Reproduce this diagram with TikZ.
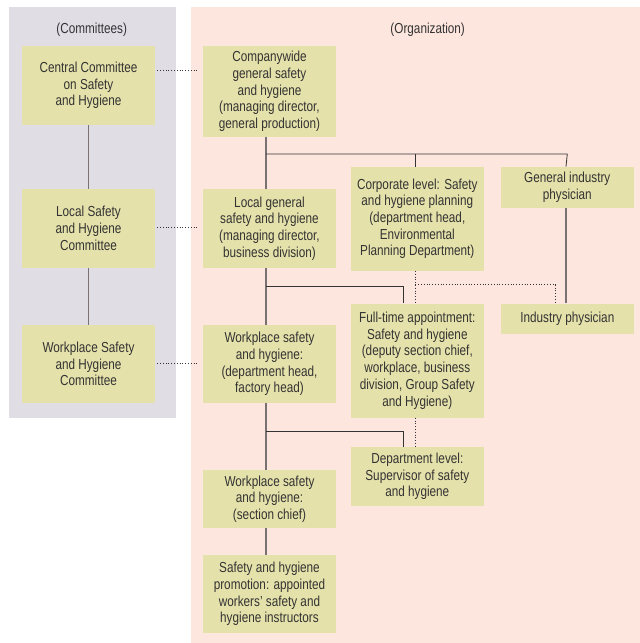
\documentclass[tikz,border=0pt]{standalone}
\usepackage{fontspec}
\setmainfont{Liberation Sans}[FakeStretch=0.81]
\usetikzlibrary{positioning, calc}

\definecolor{cmtbg}{RGB}{224,221,229}
\definecolor{orgbg}{RGB}{253,230,222}
\definecolor{boxfill}{RGB}{229,225,170}
\definecolor{txtgray}{RGB}{51,51,51}
\definecolor{trunkgray}{RGB}{122,114,114}

\tikzset{
  unit/.style={fill=boxfill, inner sep=0pt, minimum width=133pt, align=center,
    text=txtgray, font=\fontsize{14.5}{16.7}\selectfont},
  paneltitle/.style={text=txtgray, font=\fontsize{14.5}{16.7}\selectfont},
  trunkline/.style={draw=trunkgray, line width=1.3pt},
  branchline/.style={draw=txtgray, line width=0.8pt},
  linkdots/.style={draw=txtgray, line width=0.8pt, dash pattern=on 0.8pt off 2pt}
}

\begin{document}
\begin{tikzpicture}[x=1pt, y=-1pt]
\useasboundingbox (0,0) rectangle (640,643);

% --- panels ---
\fill[cmtbg] (9,7) rectangle (176,418);
\fill[orgbg] (191,7) rectangle (640,643);
\node[paneltitle] (cmttitle) at (91.7,30) {(Committees)};
\node[paneltitle] (orgtitle) at (427.7,30) {(Organization)};

% --- committees ---
\node[unit, minimum height=79pt] (central) at (88.5,85.5)
  {Central Committee\\on Safety\\and Hygiene};
\node[unit, minimum height=79pt] (localcmt) at (88.5,228.3)
  {Local Safety\\and Hygiene\\Committee};
\node[unit, minimum height=78pt] (workcmt) at (88.5,364)
  {Workplace Safety\\and Hygiene\\Committee};
\draw[trunkline] (central) -- (localcmt);
\draw[trunkline] (localcmt) -- (workcmt);

% --- organization: main column ---
\node[unit, minimum height=91pt] (company) at (269.5,91.5)
  {Companywide\\general safety\\and hygiene\\(managing director,\\general production)};
\node[unit, minimum height=79pt] (localorg) at (269.5,228.3)
  {Local general\\safety and hygiene\\(managing director,\\business division)};
\node[unit, minimum height=78pt] (workorg) at (269.5,364)
  {Workplace safety\\and hygiene:\\(department head,\\factory head)};
\node[unit, minimum height=58pt] (section) at (269.5,499)
  {Workplace safety\\and hygiene:\\(section chief)};
\node[unit, minimum height=78pt] (promo) at (269.5,594)
  {Safety and hygiene\\promotion: appointed\\workers' safety and\\hygiene instructors};

% --- organization: staff column ---
\node[unit, minimum height=104pt] (corp) at (417.3,218.7)
  {Corporate level: Safety\\and hygiene planning\\(department head,\\Environmental\\Planning Department)};
\node[unit, minimum height=114pt] (fulltime) at (417.3,360.5)
  {Full-time appointment:\\Safety and hygiene\\(deputy section chief,\\workplace, business\\division, Group Safety\\and Hygiene)};
\node[unit, minimum height=59pt] (dept) at (417.3,476.3)
  {Department level:\\Supervisor of safety\\and hygiene};

% --- physicians ---
\node[unit, minimum height=41pt] (physgen) at (567.3,187.2)
  {General industry\\physician};
\node[unit, minimum height=30pt] (physind) at (567.3,318.5)
  {Industry physician};

% trunk of the organization
\draw[trunkline] ([xshift=-3.5pt]company.south) -- ([xshift=-3.5pt]localorg.north);
\draw[trunkline] ([xshift=-3.5pt]localorg.south) -- ([xshift=-3.5pt]workorg.north);
\draw[trunkline] ([xshift=-3.5pt]workorg.south) -- ([xshift=-3.5pt]section.north);
\draw[trunkline] ([xshift=-3.5pt]section.south) -- ([xshift=-3.5pt]promo.north);
\draw[trunkline] ([xshift=-1.3pt]physgen.south) -- ([xshift=-1.3pt]physind.north);

% branches
\coordinate (splitA) at (266,154);
\coordinate (splitB) at (266,286);
\coordinate (dropB) at (403.3,286);
\coordinate (splitC) at (266,431.3);
\coordinate (dropC) at (403.3,431.3);
\draw[branchline] (splitA) -- (splitA -| physgen.north) -- ([xshift=-1.3pt]physgen.north);
\draw[branchline] ([xshift=-2pt]splitA -| corp.north) -- ([xshift=-2pt]corp.north);
\draw[branchline] (splitB) -- (dropB) -- (dropB |- fulltime.north);
\draw[branchline] (splitC) -- (dropC) -- (dropC |- dept.north);

% dotted links
\coordinate (dotB) at (555.3,284.7);
\draw[linkdots] ([xshift=-2pt]corp.south) -- ([xshift=-2pt]fulltime.north);
\draw[linkdots] ([xshift=-2pt]corp.south |- dotB) -- (dotB) -- (dotB |- physind.north);
\draw[linkdots] ([xshift=-2pt]fulltime.south) -- ([xshift=-2pt]dept.north);
\draw[linkdots, shorten <=2pt, shorten >=4pt] ([yshift=15.5pt]central.east) -- ([yshift=15.5pt]central.east -| company.west);
\draw[linkdots, shorten <=2pt, shorten >=4pt] ([yshift=1pt]localcmt.east) -- ([yshift=1pt]localcmt.east -| localorg.west);
\draw[linkdots, shorten <=2pt, shorten >=4pt] ([yshift=1pt]workcmt.east) -- ([yshift=1pt]workcmt.east -| workorg.west);

\end{tikzpicture}
\end{document}
